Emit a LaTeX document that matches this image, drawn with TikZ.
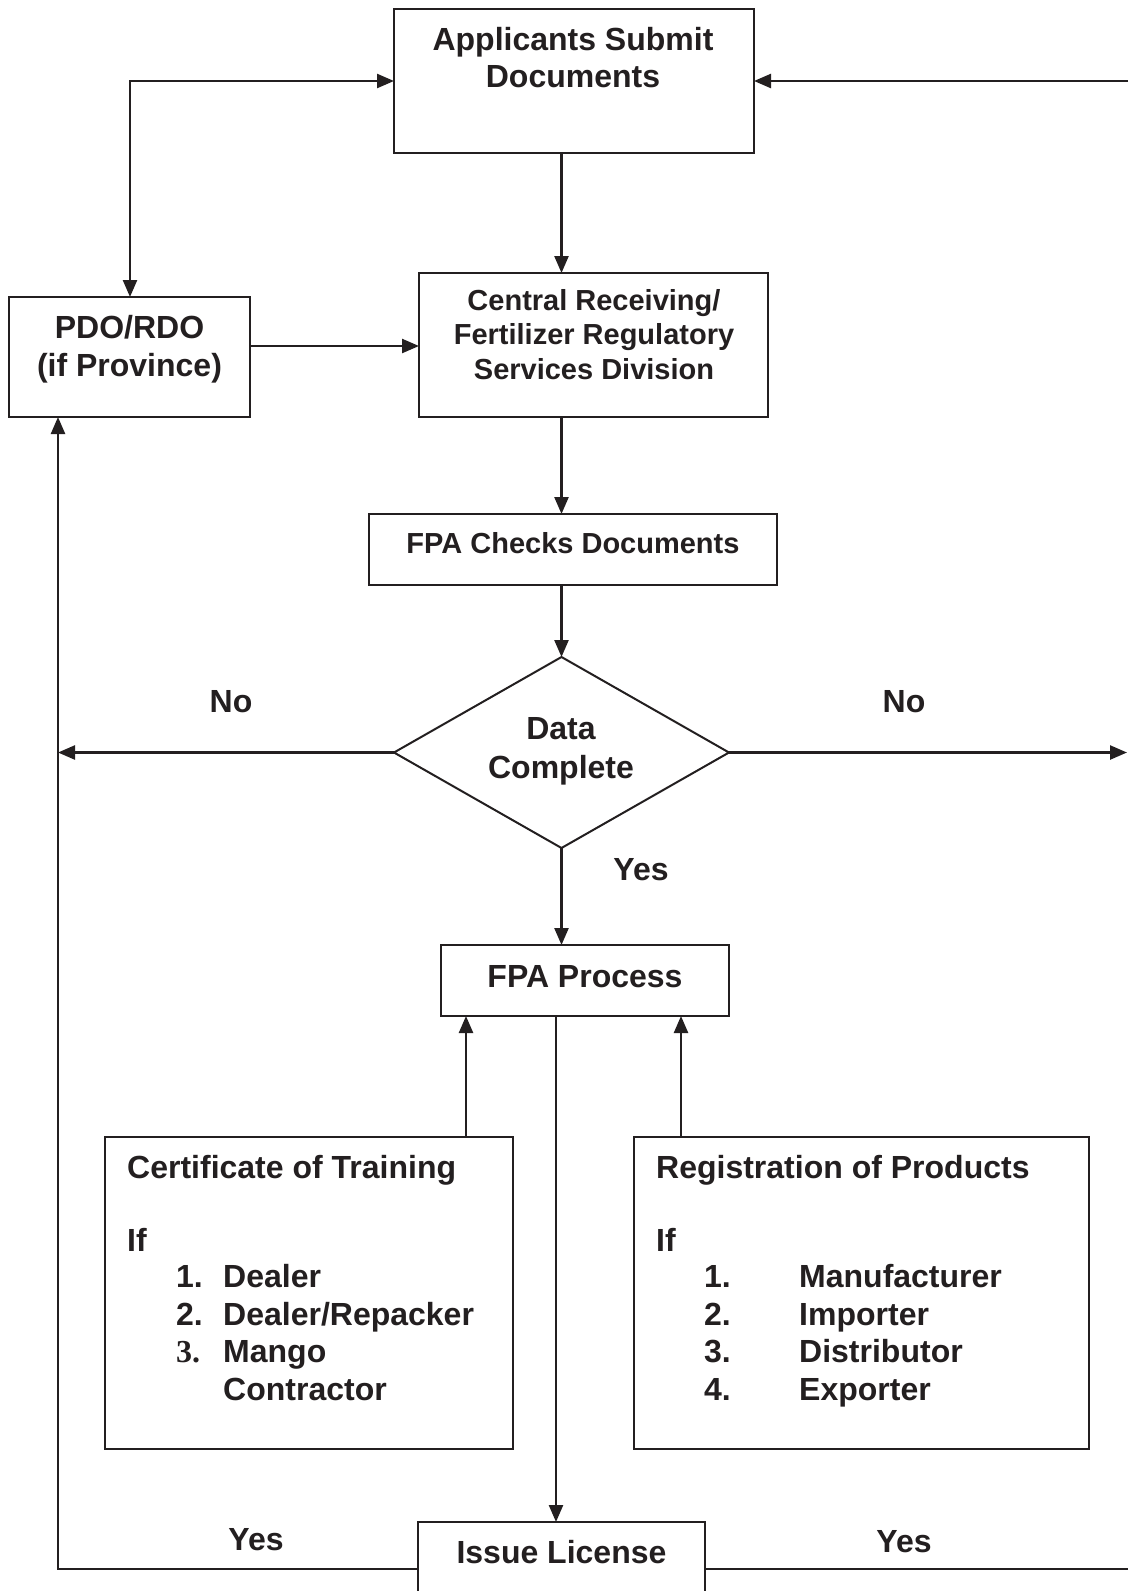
\documentclass[tikz,border=0pt]{standalone}
\usepackage{fontspec}
\setmainfont{Liberation Sans}
\newfontfamily\serifb{Liberation Serif}
\usetikzlibrary{arrows.meta,shapes.geometric}
\definecolor{ink}{RGB}{35,31,32}
\begin{document}
\begin{tikzpicture}[x=1pt,y=-1pt,
  line width=2.4pt, draw=ink, text=ink,
  box/.style={draw=ink, line width=2pt, inner sep=0pt, outer sep=0pt, anchor=north west},
  arr/.style={draw=ink, line width=2.4pt, -{Triangle[length=17pt,width=14pt]}},
  darr/.style={draw=ink, line width=2.4pt, {Triangle[length=17pt,width=14pt]}-{Triangle[length=17pt,width=14pt]}},
  big/.style={font=\fontsize{32}{37}\selectfont\bfseries, inner sep=0pt},
  mid/.style={font=\fontsize{29}{34.5}\selectfont\bfseries, inner sep=0pt},
  ]
\useasboundingbox (0,0) rectangle (1128,1591);
\clip (0,0) rectangle (1128,1591);
\fill[white] (0,0) rectangle (1128,1591);

% boxes
\node[box, minimum width=360pt, minimum height=144pt] (app) at (394,9) {};
\node[box, minimum width=349pt, minimum height=144pt] (cen) at (419,273) {};
\node[box, minimum width=241pt, minimum height=120pt] (pdo) at (9,297) {};
\node[box, minimum width=408pt, minimum height=71pt] (chk) at (369,514) {};
\node[draw=ink, line width=2pt, diamond, inner sep=0pt, outer sep=0pt,
      minimum width=335pt, minimum height=191pt] (dia) at (561.5,752.5) {};
\node[box, minimum width=288pt, minimum height=71pt] (proc) at (441,945) {};
\node[box, minimum width=408pt, minimum height=312pt] (cert) at (105,1137) {};
\node[box, minimum width=455pt, minimum height=312pt] (reg) at (634,1137) {};
\node[box, minimum width=287pt, minimum height=110pt] (lic) at (418,1522) {};

% texts (anchor=base is the baseline of the last line)
\node[big, anchor=base, align=center] (tapp) at (573,87.5) {Applicants Submit\\Documents};
\node[mid, anchor=base, align=center] (tcen) at (594,379.4) {Central Receiving/\\Fertilizer Regulatory\\Services Division};
\node[big, anchor=base, align=center] (tpdo) at (129.5,376.5) {PDO/RDO\\[1pt](if Province)};
\node[mid, anchor=base] (tchk) at (573,553.4) {FPA Checks Documents};
\node[big, anchor=base, align=center] (tdia) at (561,778.5) {Data\\[2pt]Complete};
\node[big, anchor=base] (tproc) at (585,987.5) {FPA Process};
\node[big, anchor=base] (tlic) at (561.5,1563.5) {Issue License};

\node[big, anchor=base] (nol) at (231,712.5) {No};
\node[big, anchor=base] (nor) at (904,712.5) {No};
\node[big, anchor=base] (yes) at (641,880.5) {Yes};
\node[big, anchor=base] (yesl) at (256,1550.5) {Yes};
\node[big, anchor=base] (yesr) at (904,1552.5) {Yes};

% certificate box text
\node[big, anchor=base west] (c0) at (126,1178.5) {Certificate of Training};
\node[big, anchor=base west] (c1) at (126,1251.5) {If};
\node[big, anchor=base west] (c2n) at (175,1287.5) {1.};
\node[big, anchor=base west] (c2) at (222,1287.5) {Dealer};
\node[big, anchor=base west] (c3n) at (175,1325.5) {2.};
\node[big, anchor=base west] (c3) at (222,1325.5) {Dealer/Repacker};
\node[big, anchor=base west] (c4n) at (175,1362.5) {\serifb\bfseries 3.};
\node[big, anchor=base west] (c4) at (222,1362.5) {Mango};
\node[big, anchor=base west] (c5) at (222,1400.5) {Contractor};

% registration box text
\node[big, anchor=base west] (r0) at (655,1178.5) {Registration of Products};
\node[big, anchor=base west] (r1) at (655,1251.5) {If};
\node[big, anchor=base west] (r2n) at (703,1287.5) {1.};
\node[big, anchor=base west] (r2) at (798,1287.5) {Manufacturer};
\node[big, anchor=base west] (r3n) at (703,1325.5) {2.};
\node[big, anchor=base west] (r3) at (798,1325.5) {Importer};
\node[big, anchor=base west] (r4n) at (703,1362.5) {3.};
\node[big, anchor=base west] (r4) at (798,1362.5) {Distributor};
\node[big, anchor=base west] (r5n) at (703,1400.5) {4.};
\node[big, anchor=base west] (r5) at (798,1400.5) {Exporter};

% free-end coordinates
\coordinate (tl) at (130,81);
\coordinate (rtop) at (1128,81);
\coordinate (lft) at (58,752.5);
\coordinate (rgt) at (1127,752.5);
\coordinate (bl) at (58,1569);
\coordinate (br) at (1128,1569);

% connectors
\draw[darr] (app.west) -- (tl) -- (tl |- pdo.north);
\draw[arr] (rtop) -- (app.east);
\draw[arr] (dia.north |- app.south) -- (dia.north |- cen.north);
\draw[arr] (pdo.east |- 0,346) -- (cen.west |- 0,346);
\draw[arr] (dia.north |- cen.south) -- (dia.north |- chk.north);
\draw[arr] (dia.north |- chk.south) -- (dia.north);
\draw[arr] (dia.west) -- (lft);
\draw[arr] (dia.east) -- (rgt);
\draw[arr] (dia.south) -- (dia.south |- proc.north);
\draw[arr] (cert.north -| 466,0) -- (proc.south -| 466,0);
\draw[arr] (reg.north -| 681,0) -- (proc.south -| 681,0);
\draw[arr] (proc.south -| 556,0) -- (lic.north -| 556,0);
\draw[arr] (lic.west |- bl) -- (bl) -- (bl |- pdo.south);
\draw (lic.east |- br) -- (br);
\end{tikzpicture}
\end{document}
